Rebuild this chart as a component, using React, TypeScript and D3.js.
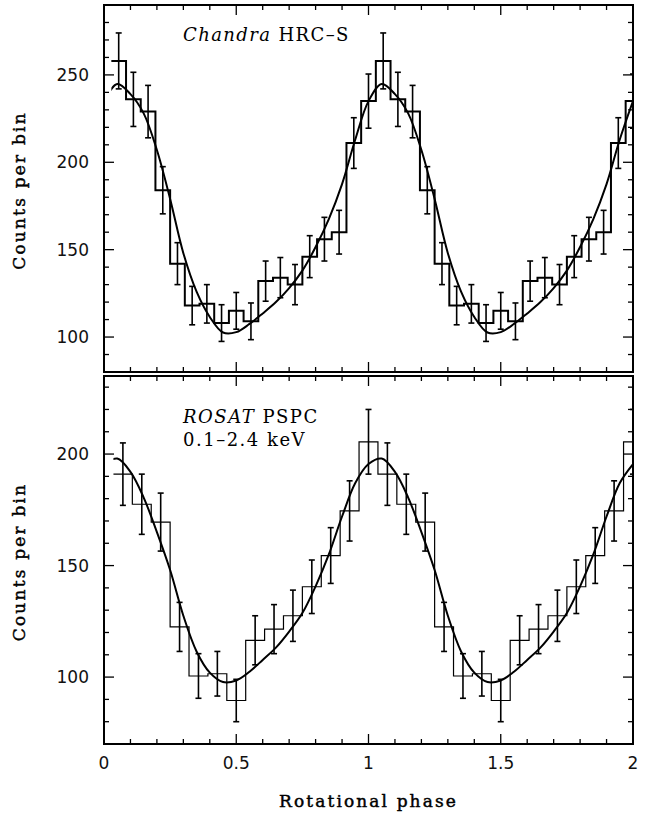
import React from "react";
import * as d3 from "d3";

// Chandra HRC-S light curve, 18 bins per cycle (bin centres at k/18)
const chandraCounts = [258, 236, 229, 184, 142, 118, 119, 108, 115, 109, 132, 134, 130, 146, 156, 160, 211, 235];
const chandraErrors = [16, 15.5, 15, 13.5, 12, 11, 11, 10.5, 10.5, 10.5, 11.5, 11.5, 11.5, 12, 12.5, 12.5, 14.5, 15.5];

// ROSAT PSPC light curve, 14 bins per cycle (bin centres at k/14)
const rosatCounts = [191, 177.5, 169.5, 122.5, 100.5, 101.5, 89.5, 116.5, 121.5, 127.5, 140.5, 154.5, 174.5, 205.5];
const rosatErrors = [14, 13.5, 13, 11, 10, 10, 9.5, 11, 11, 11.5, 12, 12.5, 13.5, 14.5];

const fitPhases = [0, 0.05, 0.1, 0.15, 0.2, 0.25, 0.3, 0.35, 0.4, 0.45, 0.5, 0.55, 0.6, 0.65, 0.7, 0.75, 0.8, 0.85, 0.9, 0.95, 1];
const chandraFit = [235, 244.8, 239, 228, 207, 179, 148, 126, 111.5, 102.6, 102.8, 107.5, 113.5, 120, 128, 138, 151.5, 167.5, 187.5, 213, 235];
const rosatFit = [195.5, 198, 192, 180.5, 165, 148, 127.5, 111.5, 102, 97.8, 98.5, 102.4, 107.7, 113.2, 120.4, 128.7, 140.7, 155, 172, 187, 195.5];

const xTickLabels = [0, 0.5, 1, 1.5, 2];
const chandraYTicks = [100, 150, 200, 250];
const rosatYTicks = [100, 150, 200];

const W = 647;
const H = 813;
const left = 104;
const right = 633;
const serif = "'DejaVu Serif', 'Liberation Serif', serif";
const sans = "'DejaVu Sans', 'Liberation Sans', sans-serif";

const x = d3.scaleLinear().domain([0, 2]).range([left, right]);

type PanelProps = {
  id: string;
  top: number;
  bottom: number;
  domain: [number, number];
  counts: number[];
  errors: number[];
  fit: number[];
  yTicks: number[];
  histWidth: number;
  showXLabels: boolean;
  children?: React.ReactNode;
};

const Panel = ({ id, top, bottom, domain, counts, errors, fit, yTicks, histWidth, showXLabels, children }: PanelProps) => {
  const y = d3.scaleLinear().domain(domain).range([bottom, top]);
  const n = counts.length;

  // bins for two cycles
  const bins: { c: number; v: number; e: number }[] = [];
  for (let cyc = 0; cyc < 2; cyc++) {
    counts.forEach((v, i) => bins.push({ c: cyc + (i + 1) / n, v, e: errors[i] }));
  }
  const histPts: [number, number][] = [];
  bins.forEach((b) => {
    const l = Math.max(0, b.c - 0.5 / n);
    const r = Math.min(2, b.c + 0.5 / n);
    histPts.push([x(l), y(b.v)], [x(r), y(b.v)]);
  });
  const histPath = d3.line()(histPts) || "";

  const fitPts: [number, number][] = [];
  for (let cyc = 0; cyc < 2; cyc++) {
    fitPhases.forEach((p, i) => {
      if (cyc === 1 && i === 0) return;
      fitPts.push([x(cyc + p), y(fit[i])]);
    });
  }
  const fitPath = d3.line().curve(d3.curveCatmullRom)(fitPts) || "";

  const minorX = x.ticks(20);
  const minorY = d3.range(Math.ceil(domain[0] / 10) * 10, domain[1], 10);
  const major = 10;
  const minor = 5;

  return (
    <g>
      <defs>
        <clipPath id={`${id}-area`}>
          <rect x={left} y={top} width={right - left} height={bottom - top} />
        </clipPath>
        <clipPath id={`${id}-fit`}>
          <rect x={x(0.5 / n)} y={top} width={right - x(0.5 / n)} height={bottom - top} />
        </clipPath>
      </defs>
      <g clipPath={`url(#${id}-area)`}>
        <path d={histPath} fill="none" stroke="#000" strokeWidth={histWidth} />
        {bins.map((b, i) => (
          <g key={i} stroke="#000" strokeWidth={1.6}>
            <line x1={x(b.c)} x2={x(b.c)} y1={y(b.v - b.e)} y2={y(b.v + b.e)} />
            <line x1={x(b.c) - 3} x2={x(b.c) + 3} y1={y(b.v - b.e)} y2={y(b.v - b.e)} />
            <line x1={x(b.c) - 3} x2={x(b.c) + 3} y1={y(b.v + b.e)} y2={y(b.v + b.e)} />
          </g>
        ))}
      </g>
      <path d={fitPath} fill="none" stroke="#000" strokeWidth={2} clipPath={`url(#${id}-fit)`} />

      {/* ticks, inward on all four sides */}
      <g stroke="#000" strokeWidth={1.3}>
        {minorX.map((t, i) => {
          const len = xTickLabels.includes(+t.toFixed(1)) ? major : minor;
          return (
            <g key={i}>
              <line x1={x(t)} x2={x(t)} y1={bottom} y2={bottom - len} />
              <line x1={x(t)} x2={x(t)} y1={top} y2={top + len} />
            </g>
          );
        })}
        {minorY.map((t, i) => {
          const len = t % 50 === 0 ? major : minor;
          return (
            <g key={i}>
              <line x1={left} x2={left + len} y1={y(t)} y2={y(t)} />
              <line x1={right} x2={right - len} y1={y(t)} y2={y(t)} />
            </g>
          );
        })}
      </g>
      <rect x={left} y={top} width={right - left} height={bottom - top} fill="none" stroke="#000" strokeWidth={2} />

      {yTicks.map((t) => (
        <text key={t} x={89} y={y(t) + 6} textAnchor="end" fontFamily={sans} fontSize={17} fill="#111">
          {t}
        </text>
      ))}
      {showXLabels &&
        xTickLabels.map((t) => (
          <text key={t} x={x(t)} y={bottom + 25} textAnchor="middle" fontFamily={sans} fontSize={17} fill="#111">
            {t}
          </text>
        ))}
      <text
        transform={`translate(25,${(top + bottom) / 2 + 2}) rotate(-90)`}
        textAnchor="middle"
        fontFamily={serif}
        fontSize={17}
        letterSpacing={2.2}
        fill="#000"
        stroke="#000"
        strokeWidth={0.45}
      >
        Counts per bin
      </text>
      {children}
    </g>
  );
};

export default function App() {
  return (
    <svg width={W} height={H} style={{ position: "absolute", left: 0, top: 0, background: "#fff" }}>
      <rect width={W} height={H} fill="#fff" />
      <Panel
        id="chandra"
        top={5}
        bottom={372}
        domain={[80, 290]}
        counts={chandraCounts}
        errors={chandraErrors}
        fit={chandraFit}
        yTicks={chandraYTicks}
        histWidth={2}
        showXLabels={false}
      >
        <text x={183} y={41} fontFamily={serif} fontSize={18} letterSpacing={1.4} fill="#000">
          <tspan fontStyle="italic">Chandra</tspan> HRC–S
        </text>
      </Panel>
      <Panel
        id="rosat"
        top={376}
        bottom={744}
        domain={[70, 235]}
        counts={rosatCounts}
        errors={rosatErrors}
        fit={rosatFit}
        yTicks={rosatYTicks}
        histWidth={1.2}
        showXLabels={true}
      >
        <text x={183} y={423} fontFamily={serif} fontSize={18} letterSpacing={1.5} fill="#000">
          <tspan fontStyle="italic">ROSAT</tspan> PSPC
        </text>
        <text x={183} y={446} fontFamily={serif} fontSize={18} letterSpacing={1.5} fill="#000">
          0.1–2.4 keV
        </text>
      </Panel>
      <text
        x={x(1)}
        y={807}
        textAnchor="middle"
        fontFamily={serif}
        fontSize={17}
        letterSpacing={2.1}
        fill="#000"
        stroke="#000"
        strokeWidth={0.45}
      >
        Rotational phase
      </text>
    </svg>
  );
}
